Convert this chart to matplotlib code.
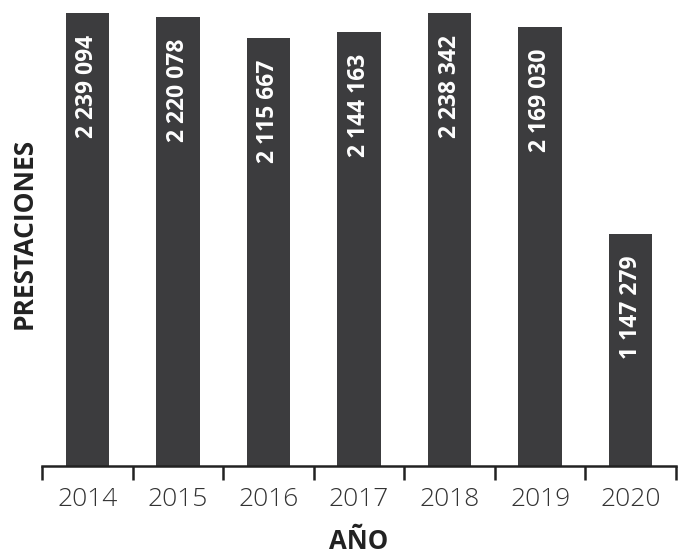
import numpy as np
import matplotlib.pyplot as plt

years = ['2014', '2015', '2016', '2017', '2018', '2019', '2020']
prestaciones = [2239094, 2220078, 2115667, 2144163, 2238342, 2169030, 1147279]
etiquetas = ['2 239 094', '2 220 078', '2 115 667', '2 144 163', '2 238 342', '2 169 030', '1 147 279']

plt.rcParams['font.family'] = ['Open Sans', 'DejaVu Sans']

fig = plt.figure(figsize=(6.82, 5.56), dpi=100)
ax = fig.add_axes([0.0616, 0.162, 0.9296, 0.838])

x = np.arange(len(years))
ax.bar(x, prestaciones, width=0.48, color='#3c3c3e')

for xi, v, lab in zip(x, prestaciones, etiquetas):
    ax.annotate(lab, (xi, v), xytext=(0, -22), textcoords='offset pixels',
                rotation=90, ha='center', va='top', color='white',
                fontsize=16.5, fontweight='bold')

ax.set_xlim(-0.5, len(years) - 0.5)
ax.set_ylim(0, 2303000)
ax.set_yticks([])
for s in ['top', 'right', 'left']:
    ax.spines[s].set_visible(False)
ax.spines['bottom'].set_linewidth(1.8)
ax.spines['bottom'].set_color('#222222')

ax.set_xticks(x)
ax.set_xticklabels(years, fontsize=19, color='#333333', fontweight='light')
ax.set_xticks(np.arange(-0.5, len(years)), minor=True)
ax.tick_params(axis='x', which='major', length=0, pad=15)
ax.tick_params(axis='x', which='minor', length=10, width=1.8, color='#222222')

ax.set_xlabel('AÑO', fontsize=18.5, fontweight='bold', color='#222222', labelpad=12)
ax.set_ylabel('PRESTACIONES', fontsize=19, fontweight='bold', color='#222222', labelpad=3)

fig.savefig('out.png', dpi=100)
